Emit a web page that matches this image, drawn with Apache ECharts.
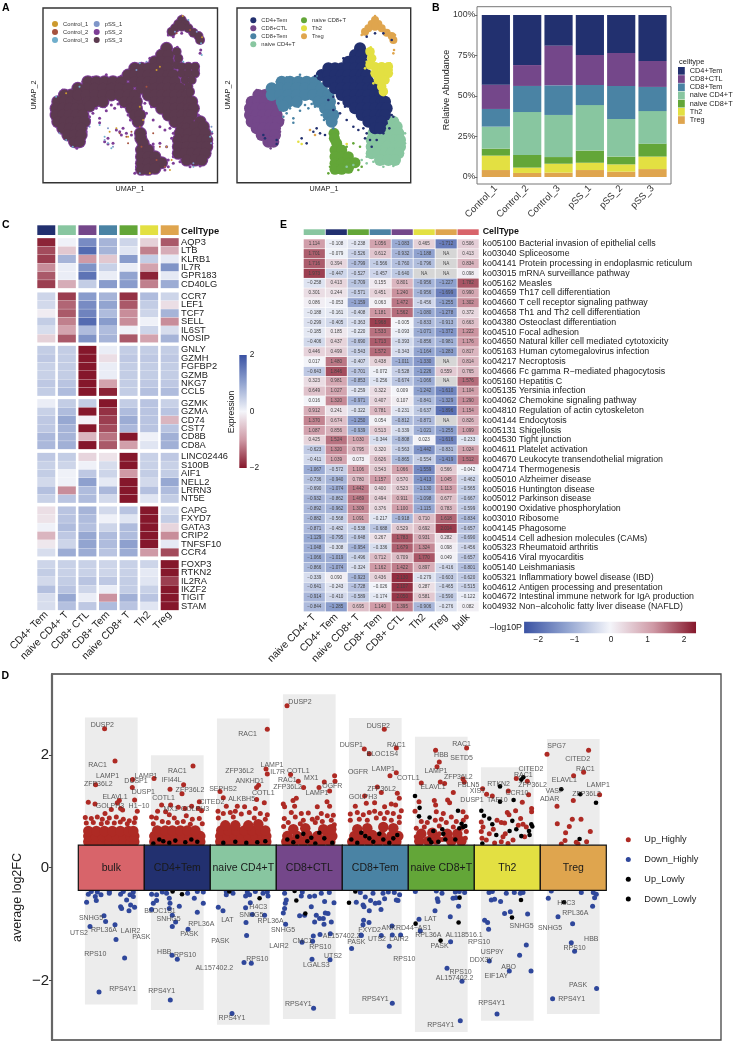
<!DOCTYPE html>
<html>
<head>
<meta charset="utf-8">
<title>Figure</title>
<script src="https://cdn.jsdelivr.net/npm/echarts@6/dist/echarts.min.js"></script>
<style>
  html, body { margin: 0; padding: 0; background: #fff; }
  #main { width: 734px; height: 1041px; }
</style>
</head>
<body>
<div id="main"></div>
<script>
// ---- cell type colours
const typeColors = { 'CD4+Tem': '#22306F', 'CD8+CTL': '#74478A', 'CD8+Tem': '#4A83A4', 'naive CD4+T': '#88C6A0',
  'naive CD8+T': '#63A638', 'Th2': '#E3E042', 'Treg': '#DFA54E', 'bulk': '#D8646A' };
const sampleColors = { Control_1: '#CC9A2F', Control_2: '#A5523F', Control_3: '#6FAECC', pSS_1: '#7F96C9', pSS_2: '#7D3D96', pSS_3: '#5C3A4F' };

// ---- UMAP points (umap x, umap y pairs, flat)
const ctlCore = [775,285,795,285, 755,305,775,305,795,305,815,305, 750,325,770,325,790,325,810,325,830,325, 750,345,770,345,790,345,810,345,830,345,
  755,365,775,365,795,365,815,365,835,365, 770,385,790,385,810,385,825,385, 785,405,805,405,825,405, 805,425,820,425];
const temCore = [845,245,870,245,895,245,920,245,945,245, 815,265,840,265,865,265,890,265,915,265,940,265,965,265,
  815,285,840,285,865,285,890,285,915,285,940,285,965,285,985,285, 845,305,865,305,890,305,955,305,975,305,990,305,
  850,318,975,325,990,325, 985,345,1000,345, 995,365];
const cd4Core = [1080,145, 1065,165,1085,165, 1045,185,1065,185,1085,185, 985,205,1005,205,1025,205,1045,205,1065,205,1085,205,
  965,225,985,225,1005,225,1025,225,1045,225,1065,225,1085,225,1100,225, 985,245,1005,245,1025,245,1045,245,1065,245,1085,245,1105,245,
  1005,265,1025,265,1045,265,1065,265,1085,265,1105,265,1120,265, 1025,285,1045,285,1065,285,1085,285,1105,285,1125,285,1140,285,
  1045,305,1065,305,1085,305,1105,305,1125,305,1145,305,1155,305, 1065,325,1085,325,1105,325,1125,325,1145,325,1160,325,
  1085,345,1105,345,1125,345,1145,345,1155,345, 1105,365,1125,365,1145,365, 1125,385,1140,385];
const nCd4Core = [1180,365, 1165,380,1190,380, 1120,400,1145,400,1170,400,1195,400, 1115,420,1140,420,1160,420,1185,420,1200,420,
  1115,440,1140,440,1160,440,1185,440,1200,440, 1115,460,1135,460,1155,460,1175,460,1195,460, 1140,480,1165,480,1185,480];
const nCd8Core = [1002,400,1003,415, 1010,430, 1005,450,1025,450, 1005,470,1025,470,1045,470, 1005,490,1025,490,1045,490,1065,488, 1005,508,1025,508,1045,505];
const th2Core = [1110,155,1115,175,1110,195,1125,200,1145,200,1165,200,1125,220,1145,220,1165,220,1135,240,1155,240,1145,260,1150,275];
const tregCore = [1125,60,1115,72,1135,72,1105,85,1125,80,1145,85,1160,98,1175,108,1095,95,1180,120];
const ctlStray = [745,300,738,320,742,345,762,385,778,410,798,430,812,445,842,340,850,360,840,395,835,415,790,278,770,270];
const temStray = [805,262,830,245,860,232,900,224,950,228,840,330,860,340,880,368,895,320,915,315,935,312,900,332,925,325,945,320,870,325,850,350,880,355,965,345,972,360,1000,385];
const cd4Stray = [1100,400,1110,420,1130,420,1160,370,1180,350,1115,440,1150,400,1000,330,1020,340,1040,360,1060,380,1075,390,1090,385,1150,100,1125,100,1175,120,1100,110,
  830,420,830,432,790,405,795,415,940,395,960,400,975,405,920,430,905,415,950,385,1030,175,960,215,945,228,985,300,1000,290,1015,310,1035,320,1175,345,1095,415,1120,395,1168,385];
const nCd4Stray = [1085,480,1060,495,1040,500,1100,490,1120,485,1215,400,1215,430,1100,470,1180,498,1150,500];
const nCd8Stray = [1070,490,1080,440,1040,440,1060,430,1085,500,1075,510,985,520,990,500];
const th2Stray = [1100,185,1095,205,1112,142,1120,250,1170,190,1175,210,1040,432,905,432,895,425];
const tregStray = [1125,48,1085,105,1185,105,1185,125,1182,150,1180,160,945,405,930,390];
// stray cells of each sample on panel A
const control1Stray = [1128,48,1186,112,1010,360,1000,320,1080,440,1095,480,780,280,1050,210,1090,510,1030,520,930,385,910,395,965,410,1060,200];
const control2Stray = [1110,100,1150,90,1040,400,1060,440,1050,480,940,400,960,410,965,430,975,395,1020,260,1075,500,1000,380,1005,440];
const control3Stray = [1145,60,1183,130,1185,165,1210,410,1216,395,780,420,800,440,905,430,915,445,880,375,895,410,1000,190,1130,185,1160,500,750,290,820,260];
const pss1Stray = [1105,95,1170,95,1213,430,1214,380,1160,490,895,420,920,440,905,385,850,380,1020,185,990,210,760,400,1000,520];

// ---- panel B, relative abundance per sample (segments bottom up)
const samples = ['Control_1', 'Control_2', 'Control_3', 'pSS_1', 'pSS_2', 'pSS_3'];
const shareTreg = [4.3, 2.5, 2.7, 4.3, 3.3, 4.9];
const shareTh2 = [8.9, 3.3, 5.5, 4.5, 4.5, 7.7];
const shareNaiveCd8 = [4.3, 7.8, 4.1, 7.5, 4.8, 8.0];
const shareNaiveCd4 = [13.6, 26.5, 26.0, 28.1, 23.2, 20.1];
const shareCd8Tem = [10.9, 16.1, 18.3, 12.4, 20.4, 14.9];
const shareCd8Ctl = [15.0, 12.9, 24.5, 18.5, 20.3, 16.0];
const shareCd4Tem = [43.0, 30.9, 18.9, 24.7, 23.5, 28.4];
const abundanceTicks = ['0%', '25%', '50%', '75%', '100%'];

// ---- panel C, expression heatmap
const cColumns = ['CD4+ Tem', 'naive CD4+ T', 'CD8+ CTL', 'CD8+ Tem', 'naive CD8+ T', 'Th2', 'Treg'];
const cGenes = ['AQP3','LTB','KLRB1','IL7R','GPR183','CD40LG', 'CCR7','LEF1','TCF7','SELL','IL6ST','NOSIP',
  'GNLY','GZMH','FGFBP2','GZMB','NKG7','CCL5', 'GZMK','GZMA','CD74','CST7','CD8B','CD8A',
  'LINC02446','S100B','AIF1','NELL2','LRRN3','NT5E', 'CAPG','FXYD7','GATA3','CRIP2','TNFSF10','CCR4',
  'FOXP3','RTKN2','IL2RA','IKZF2','TIGIT','STAM'];
const cValues = [
  [1.9,-0.05,-1.3,-0.8,-0.4,0.4,1.5],[1.6,0.5,-1.7,-0.8,-0.2,1.2,0.8],[1.7,-0.8,1.0,0.5,-1.1,-0.5,-0.15],
  [1.1,-0.1,-1.2,-0.45,-0.1,0.9,-1.2],[1.5,-0.1,-1.6,-0.1,-1.0,1.9,-0.15],[1.7,0.8,-0.5,-1.1,-1.1,1.2,-0.9],
  [-0.4,1.7,-1.1,-0.8,1.8,-0.7,-0.4],[-0.35,1.4,-1.3,-1.0,1.5,-0.5,0.25],[0.1,1.5,-1.4,-0.7,1.1,-0.4,-0.8],
  [-0.5,1.2,-1.7,-1.1,1.1,-0.05,1.1],[-0.3,0.9,-0.7,-0.7,-0.05,-0.4,-0.3],[0.4,1.5,-1.2,-0.8,1.5,0.9,-0.8],
  [-0.5,-0.5,2.3,-0.1,-0.5,-0.5,-0.5],[-0.55,-0.5,2.2,0.25,-0.55,-0.55,-0.55],[-0.45,-0.5,2.2,-0.1,-0.5,-0.5,-0.5],
  [-0.45,-0.5,2.2,-0.1,-0.5,-0.5,-0.5],[-0.55,-0.6,2.2,0.9,-0.5,-0.55,-0.55],[-0.5,-0.7,2.2,1.9,-0.5,-0.65,-0.7],
  [-0.1,-0.5,-0.5,2.2,-0.5,-0.6,-0.45],[-0.45,-0.7,2.1,1.8,-0.7,-0.6,-0.6],[-0.55,-0.95,0.05,1.7,-0.9,-0.6,0.7],
  [-0.55,-0.8,2.1,1.6,-0.75,-0.6,-0.6],[-0.75,-0.8,0.7,1.3,2.1,-0.05,-0.85],[-0.75,-0.85,2.0,1.5,0.95,-0.2,-0.85],
  [-0.55,-0.5,0.35,0.2,2.3,-0.45,-0.55],[-0.45,-0.4,-0.05,-0.3,2.3,-0.45,-0.45],[-0.5,-0.05,-0.55,-0.4,1.0,-0.5,-0.5],
  [-0.35,-0.05,-1.05,-0.15,2.0,-0.35,-0.95],[-0.65,1.1,-0.7,-0.75,2.2,-0.65,-0.7],[-0.45,-0.6,-0.7,-0.35,2.2,-0.2,-0.5],
  [0.25,-0.6,-0.8,-0.35,-0.6,2.3,-0.35],[0.2,-0.6,-0.7,-0.05,-0.2,2.3,-0.5],[-0.05,-0.7,-0.65,-0.4,-0.7,2.3,0.35],
  [0.7,-0.55,-0.95,-0.7,-0.7,2.3,1.1],[0.15,-0.4,-1.0,-0.7,-1.05,2.3,-0.15],[-0.3,-0.9,-0.9,-0.6,-0.9,1.0,1.6],
  [-0.4,-0.45,-0.45,-0.4,-0.45,-0.4,2.3],[-0.5,-0.45,-0.45,-0.4,-0.45,-0.15,2.3],[-0.35,-0.5,-0.6,-0.55,-0.5,-0.2,1.7],
  [-0.65,-0.6,-0.4,-0.1,-0.5,-0.45,2.3],[-0.3,-0.95,-0.1,1.05,-0.85,-0.6,2.3],[-0.3,-0.65,-0.55,-0.7,-0.6,-0.2,2.3]
];

// ---- panel E, pathway heatmap
const eColumns = ['naive CD4+ T', 'CD4+ Tem', 'naive CD8+ T', 'CD8+ Tem', 'CD8+ CTL', 'Th2', 'Treg', 'bulk'];
const ePathways = ['ko05100 Bacterial invasion of epithelial cells','ko03040 Spliceosome','ko04141 Protein processing in endoplasmic reticulum',
  'ko03015 mRNA surveillance pathway','ko05162 Measles','ko04659 Th17 cell differentiation','ko04660 T cell receptor signaling pathway',
  'ko04658 Th1 and Th2 cell differentiation','ko04380 Osteoclast differentiation','ko04510 Focal adhesion','ko04650 Natural killer cell mediated cytotoxicity',
  'ko05163 Human cytomegalovirus infection','ko04217 Necroptosis','ko04666 Fc gamma R\u2212mediated phagocytosis','ko05160 Hepatitis C','ko05135 Yersinia infection',
  'ko04062 Chemokine signaling pathway','ko04810 Regulation of actin cytoskeleton','ko04144 Endocytosis','ko05131 Shigellosis','ko04530 Tight junction',
  'ko04611 Platelet activation','ko04670 Leukocyte transendothelial migration','ko04714 Thermogenesis','ko05010 Alzheimer disease','ko05016 Huntington disease',
  'ko05012 Parkinson disease','ko00190 Oxidative phosphorylation','ko03010 Ribosome','ko04145 Phagosome','ko04514 Cell adhesion molecules (CAMs)',
  'ko05323 Rheumatoid arthritis','ko05416 Viral myocarditis','ko05140 Leishmaniasis','ko05321 Inflammatiory bowel disease (IBD)',
  'ko04612 Antigen processing and presentation','ko04672 Intestinal immune network for IgA production','ko04932 Non\u2212alcoholic fatty liver disease (NAFLD)'];
const eValues = [
  [1.114,-0.108,-0.238,1.056,-1.083,0.465,-1.712,0.506],[1.701,-0.079,-0.526,0.612,-0.932,-1.188,'NA',0.413],
  [1.716,0.394,-0.799,-0.566,-0.760,-0.796,'NA',0.834],[1.973,-0.447,-0.527,-0.457,-0.640,'NA','NA',0.098],
  [-0.258,0.413,-0.709,0.155,0.801,-0.956,-1.227,1.782],[0.301,0.244,-0.571,0.451,1.240,-0.956,-1.699,0.990],
  [0.086,-0.053,-1.159,0.063,1.472,-0.456,-1.255,1.302],[-0.188,-0.161,-0.408,1.181,1.562,-1.080,-1.278,0.372],
  [-0.299,-0.405,-0.363,1.968,-0.005,-0.833,-0.913,0.663],[-0.185,0.185,-0.220,1.533,-0.093,-1.071,-1.372,1.222],
  [-0.406,0.437,-0.690,1.713,-0.393,-0.856,-0.981,1.176],[0.446,0.499,-0.543,1.572,-0.343,-1.164,-1.283,0.817],
  [0.017,1.480,-0.407,0.438,-1.011,-1.330,'NA',0.814],[-0.643,1.846,-0.701,-0.072,-0.528,-1.226,0.559,0.765],
  [0.323,0.981,-0.853,-0.256,-0.674,-1.066,'NA',1.576],[0.649,1.027,-0.259,0.322,0.009,-1.242,-1.610,1.104],
  [0.016,1.320,-0.971,0.407,0.107,-0.841,-1.329,1.290],[0.912,0.241,-0.322,0.781,-0.231,-0.637,-1.896,1.154],
  [1.370,0.674,-1.250,0.054,-0.812,-0.871,'NA',0.826],[1.087,0.856,-0.939,0.513,-0.339,-1.021,-1.255,1.099],
  [0.425,1.524,1.030,-0.344,-0.808,0.023,-1.616,-0.233],[-0.623,1.320,0.795,0.320,-0.563,-1.442,-0.831,1.024],
  [-0.411,1.039,0.073,0.626,-0.865,-0.554,-1.419,1.512],[-1.067,-0.572,1.106,0.543,1.066,-1.559,0.566,-0.042],
  [-0.736,-0.940,0.780,1.157,0.570,-1.413,1.045,-0.462],[-0.690,-1.074,1.442,0.400,0.523,-1.130,1.113,-0.565],
  [-0.932,-0.862,1.469,0.494,0.911,-1.098,0.677,-0.667],[-0.892,-0.962,1.309,0.376,1.100,-1.115,0.783,-0.599],
  [-0.882,-0.568,1.091,-0.217,-0.918,0.710,1.618,-0.834],[-0.871,-0.482,-0.538,-0.688,0.529,0.692,2.014,-0.657],
  [-1.129,-0.795,-0.648,0.267,1.783,0.931,0.282,-0.690],[-1.048,-0.308,-0.954,-0.336,1.679,1.324,0.098,-0.456],
  [-1.066,-1.019,-0.496,0.712,0.709,1.770,0.049,-0.657],[-0.866,-1.074,-0.324,1.162,1.422,0.897,-0.416,-0.801],
  [-0.339,0.090,-0.923,0.436,2.130,-0.279,-0.603,-0.620],[-0.641,-0.243,-0.728,-0.026,2.107,0.287,-0.465,-0.515],
  [-0.914,-0.410,-0.589,-0.174,2.050,0.581,-0.590,-0.122],[-0.844,-1.285,0.695,1.140,1.395,-0.906,-0.276,0.082]
];

// ---- panel D, volcano strips. points are (jitter, log2FC) pairs, flat
const clusters = ['bulk', 'CD4+Tem', 'naive CD4+T', 'CD8+CTL', 'CD8+Tem', 'naive CD8+T', 'Th2', 'Treg'];
const stripTop = [2.66, 1.99, 2.64, 3.07, 2.65, 2.32, 1.78, 2.28];
const stripBottom = [-2.42, -2.52, -2.78, -2.68, -2.59, -2.91, -2.71, -2.59];

const bulkDense = [-23,.46,-16,.46,-9,.46,-2,.46,5,.46,12,.46,19,.46,23,.46, -23,.56,-16,.56,-9,.56,-2,.56,5,.56,12,.56,19,.56,23,.56, -23,.65,-15,.65,-7,.65,1,.65,9,.65,17,.65,22,.65];
const cd4Dense = [-23,.46,-16,.46,-9,.46,-2,.46,5,.46,12,.46,19,.46,23,.46, -23,.56,-16,.56,-9,.56,-2,.56,5,.56,12,.56,19,.56,23,.56, -20,.66,-12,.66,-5,.66,3,.66,10,.66,18,.66];
const nCd4Dense = [-23,.46,-16,.46,-9,.46,-2,.46,5,.46,12,.46,19,.46,23,.46, -23,.56,-16,.56,-9,.56,-2,.56,5,.56,12,.56,19,.56,23,.56, -22,.66,-15,.66,-7,.66,1,.66,9,.66,17,.66,22,.66, -18,.75,-8,.75,5,.75,15,.77];
const ctlDense = [-23,.46,-15,.46,-6,.46,3,.46,12,.46,21,.46, -22,.56,-12,.56,-2,.58,8,.56,18,.56,23,.56, -16,.68,-4,.7,14,.68,22,.68];
const temDense = [-23,.46,-15,.46,-6,.46,3,.46,12,.46,21,.46, -21,.56,-12,.56,-3,.58,6,.56,16,.56,23,.56, -18,.68,-8,.7,8,.72,18,.7];
const nCd8Dense = [-22,.47,-13,.47,-5,.5,10,.47,20,.47, -20,.6,-9,.62,6,.6,16,.6];
const th2Dense = [];
const tregDense = [];

const bulkUp = [-6.7,2.46,3.7,1.89,21.3,1.56,-15.7,1.47,21,1.42,23.3,1.2,-23,1.16,-16.3,1.13,8,1.19,6,1.15,0,1.03,9.3,1.05,11.3,1.02,26,1,-6.3,.96,-26,.89,
  -20,.87,-14,.9,-9,.86,-2,.88,5,.9,12,.86,18,.83,24,.88,-25,.79,-18,.8,-10,.78,-4,.8,3,.79,9,.81,16,.78,23,.8];
const cd4Up = [15.7,1.8,-23.3,1.58,6.3,1.47,-7.3,1.39,4.7,1.31,22,1.17,-15.7,1.11,-6.7,1.11,-19.7,1,-11.7,.99,1,1.07,7.7,1.05,14.3,1.09,21,1.05,24.3,1.01,-25.7,.9,
  -21,.88,-8,.94,-3,.88,9,.92,15,.86,22,.87,-24,.78,-15,.82,-9,.8,0,.8,6,.82,13,.77,25,.78];
const nCd4Up = [24,2.45,22.7,1.75,24,1.66,15.3,1.46,13.3,1.42,-23.3,1.35,-20,1.24,13.3,1.21,21,1.15,-17,1.09,-6,1.09,1.3,1.08,12,1.05,-25.3,1,-20,.96,-13,.98,-8,1,-2,.95,6,.98,17,.96,24,.94,-25,.88,-10,.9,11,.88,22,.86];
const ctlUp = [-22.3,2.87,25.3,1.63,25.7,1.53,-18.7,1.65,-11,1.53,-5.7,1.42,15,1.52,9.7,1.42,20.3,1.36,-13,1.23,-16.3,1.19,-26,1.13,-24.7,1.08,17.7,1.17,20.3,1.09,8,1.08,-14.7,1.09,-8,.96,-1,.97,12,.96,24,.93,-25.7,.73,
  -18,.98,-14,.9,-6,.84,3,.86,8,.88,-25,.87,18,.92,22,.84,-21,.8,-9,.78,6,.8,13,.82,25,.76];
const temUp = [9,2.45,-11,2.1,-6,2.02,21,2.12,21,1.68,14.7,1.63,2,1.43,6,1.33,22,1.32,24,1.23,-10.7,1.27,-20,1.09,9.3,1.08,16,1.13,20.3,1.11,26,1.01,-.7,1.15,-9,1.14,-.7,1,
  -25,.95,-18,.98,-12,.94,-6,.98,5,.96,12,.98,18,.96,24,.9,-25,.84,-16,.86,-8,.84,1,.88,9,.87,16,.84,24,.8];
const nCd8Up = [25.3,2.12,-5.7,2.08,-2,1.87,-4.3,1.79,21.7,1.57,23,1.52,-1,1.52,3.3,1.49,-20,1.5,12,1.33,-22.3,1.17,-7,1.19,6.3,1.2,-26.3,1,-5.7,1.11,8.3,1.15,21.7,.99,25,.9,-5,.99,2,.96,
  -20,.82,-14,.8,-6,.84,0,.86,5,.8,10,.9,15,.82,22,.84,-25,.7,-17,.72,-2,.74,12,.72,20,.7,25,.64,-25,.55,-2,.6,1,.5,24,.52];
const th2Up = [20,1.53,9,1.58,-24.7,1.4,-20.7,1.3,-15,1.27,1,1.36,21.3,1.29,15,1.16,24.3,1.05,24.3,.99,0,.98,1.7,.94,8.3,1.01,13.3,.87,-10.3,.84,-6,.8,-2.7,.79,-26,.81,-24.3,.72,-26,.64,-25.3,.52,-18,.6,-4.3,.55,-2,.6,-12.7,.44,5.7,.49,15.7,.77,19,.72,-21,.49,-6,.46,.7,.43,17.3,.55,-14,.68,11,.75];
const tregUp = [-26.3,2.01,15.3,2.08,10.3,1.69,.3,1.63,26.3,1.29,0,1.19,-16.3,1.09,-16,.78,-1,.86,7.7,.86,-4,.73,17,.64,-7.7,.62,-8.3,.48,3,.45,13.3,.46,4.7,.42,-12,.42];
const bulkDown = [-12.3,-2.2,13.3,-1.6,4.7,-1.27,-21.3,-1.04,-5.7,-.95,3.7,-1.01,-7.3,-.85,-24.7,-.61,-15,-.58,-16,-.51,-10.3,-.48,-2,-.45,-23,-.47,9.3,-.47,18.7,-.48,22,-.51,15.3,-.57,19.3,-.66,23.3,-.7,17.7,-.76,9.3,-.69,10.3,-.72,-2,-.42,12,-.42,-20,-.42,-14,-.43,22,-.43];
const cd4Down = [-7,-2.34,0,-1.62,-5.3,-1.55,10.7,-1.09,-5,-1.04,-1.7,-.96,-5,-.84,20,-.79,2,-.68,26,-.63,17,-.54,-24,-.63,-25.7,-.74,-20.7,-.58,-8,-.54,-7.3,-.63,-8,-.72,-25.7,-.47,-20.7,-.48,-10.7,-.45,10.3,-.45,26,-.43,20,-.42,-15,-.43];
const nCd4Down = [-11.3,-2.58,.7,-1.68,8,-1.69,3.3,-1.2,2.7,-.97,9,-.83,21.3,-.84,-25,-.7,-20.3,-.76,2.3,-.71,7,-.62,-17,-.48,-10.3,-.45,2.3,-.5,6.3,-.48,19.7,-.45,24.7,-.5,-17,-.42,4,-.43,12,-.42,24,-.43];
const ctlDown = [4.3,-2.49,20.7,-1.63,2.7,-1.62,-7.3,-1.32,3.3,-1.3,4,-1.21,10.7,-1.18,21,-1.17,-23.7,-1,5.3,-.96,14.7,-1,22,-.96,10.3,-.9,14,-.9,-9.7,-.85,-4.7,-.84,7,-.84,18.7,-.81,16,-.8,-26,-.8,-24.7,-.72,-23,-.57,-24,-.63,2,-.69,24.7,-.62,15.3,-.6,.3,-.51,5.3,-.5,-8,-.5,-24.7,-.45,20,-.44,-7,-.43,12,-.45];
const temDown = [17,-2.4,14,-1.39,-23.7,-1.43,25.3,-1.19,17,-1.19,6,-1.2,-14,-1.2,-14.3,-1.19,16.7,-1.03,-6.3,-.97,-12.3,-1.01,-11.7,-.93,-6,-.76,5.7,-.74,-12.3,-.66,-11.3,-.69,0,-.63,3.7,-.62,-4.7,-.58,9.3,-.55,21,-.57,22.7,-.58,7.7,-.45,-2.3,-.45,24.3,-.48,19,-.44,-19,-.61,-15,-.44,-10,-.52,13,-.43];
const nCd8Down = [19,-2.71,20.7,-2.01,5.7,-1.78,9.3,-1.31,-21,-1.12,-22.3,-.91,9,-.87,-6.3,-.76,17.3,-.68,-3.3,-.6,-4,-.55,11.7,-.54,14.7,-.53,.7,-.45,-26,-.42,-5,-.41,23.3,-.44,14,-.43,18,-.42];
const th2Down = [-10.3,-2.59,23.7,-1.83,2,-1.83,-18,-1.65,12.3,-1.55,19,-1.37,-18.7,-1.09,-19.7,-.97,-22.7,-.93,-2.7,-.81,3,-.78,20.3,-.82,-16,-.57,-12.7,-.56,-6.7,-.6,-1,-.45,7,-.44,13,-.45,-18.3,-.44,15.7,-.44,-15,-.42];
const tregDown = [-20.7,-2.32,23.3,-2.14,1.3,-1.48,-2,-1.33,-.7,-.99,-15.3,-.87,19.3,-.68,21.3,-.53,23,-.47,-25,-.54,8,-.44,-22,-.41,20,-.44];
const upLowly = [[1,-24,.43,-14,.47,-8,.44,-2,.48,8,.45,14,.5,20,.46,-18,.5], [2,-20,.44,-8,.46,3,.44,14,.45,22,.47],
  [3,-22,.5,-12,.55,-2,.47,6,.43,15,.52,23,.44,-6,.6,-16,.45,10,.62,2,.53], [4,-24,.5,-18,.44,-10,.56,-2,.46,8,.5,14,.44,22,.58,-14,.62,18,.52,4,.6,-6,.52],
  [5,-26.3,1.27,-21.7,1.06,16.7,1.01,-22.3,.91,-11.7,.89,-8,.65,1,.68,2,.6,14,.5,20.3,.78,24,.74,22,.72,-10,.45,-12,.5,4,.5,-3,.46,18,.7],
  [6,-7.3,1.44,6.3,1.2,-7.3,1.17,-26,1.01,-23.3,.92,-18,.87,-15,.77,5,.83,24,.77,25,.73,21.7,.65,22.3,.58,9,.68,2.3,.65,14,.56,-11,.58,-25,.43,16,1.6,14,1.56],
  [7,-12,1.39,7,1.3,22.7,1.15,6.3,.51]];
const downLowly = [[1,-4.7,-.42,4.7,-.47], [2,16.3,-.54,-14,-.42], [3,-13,-.58,-4,-.81,-14.7,-.41], [4,-26.3,-.62,-20,-.42], [5,-.7,-1.29,-25.7,-.99,17.3,-.97,18.3,-.53], [6,4.7,-.88,13.7,-.57], [7,-9.3,-.61]];

const geneLabels = [
  ['DUSP2',0,-9,2.52],['RAC1',0,-13.7,1.81],['LAMP1',0,-3.7,1.62],['ZFP36L2',0,-13,1.48],['DUSP1',0,24.7,1.53],['DUSP1',0,32,1.34],['ELAVL1',0,3.7,1.26],['GOLPH3',0,-1.3,1.09],['H1\u221210',0,27.7,1.1],
  ['SNHG5',0,-20.3,-.89],['RPL36A',0,-7.3,-1.1],['UTS2',0,-32.3,-1.15],['LAIR2',0,19.3,-1.13],['PASK',0,30,-1.23],['RPS10',0,-16,-1.53],['RPS4Y1',0,11.3,-2.14],
  ['LAMP1',1,-31.3,1.63],['RAC1',1,0,1.71],['IFI44L',1,-5.7,1.55],['ZFP36L2',1,12.7,1.38],['COTL1',1,-13.7,1.24],['CITED2',1,34.7,1.16],['MX1',1,-6.7,1.03],['GOLPH3',1,17.7,1.03],
  ['BLOC1S1',1,-17.3,-.76],['SNHG5',1,-8.7,-.9],['RPL36A',1,24,-.99],['PASK',1,12,-1.17],['HBB',1,-13,-1.49],['RPS10',1,7.7,-1.55],['RPS4Y1',1,-15.7,-2.18],
  ['RAC1',2,4.3,2.37],['ZFP36L2',2,-3.7,1.72],['ANKHD1',2,6.3,1.54],['SEPHS2',2,-20.3,1.4],['COTL1',2,20,1.33],['ALKBH5',2,-1.7,1.22],
  ['H4C3',2,15,-.69],['SNHG5',2,8,-.84],['LAT',2,-16,-.92],['PASK',2,-23,-1.29],['RPS10',2,14,-1.62],['AL157402.2',2,-29,-1.78],['RPS4Y1',2,-11.3,-2.66],
  ['DUSP2',3,-9.3,2.93],['LAMP1',3,-37.3,1.81],['IL7R',3,-31.7,1.69],['COTL1',3,-11,1.72],['RAC1',3,-22,1.55],['MX1',3,2,1.58],['ZFP36L2',3,-21.7,1.43],['OGFR',3,23,1.45],['LAMP1',3,7.7,1.33],
  ['RPL36A',3,-38.7,-.94],['SNHG5',3,-26.3,-1.11],['LAIR2',3,-30.3,-1.39],['CMC1',3,-7,-1.3],['RPS10',3,11,-1.41],['UTS2',3,23.7,-1.56],['LGALS3',3,7,-1.72],['RPS4Y1',3,-11,-2.42],['AL157402.2',3,32.3,-1.21],
  ['DUSP2',4,3,2.51],['DUSP1',4,-24,2.18],['BLOC1S4',4,7,2.02],['RAC1',4,21,2.17],['OGFR',4,-17.3,1.69],['LAMP1',4,8,1.74],['ZFP36L2',4,6.3,1.4],['GOLPH3',4,-12.3,1.25],['COTL1',4,33,1.58],
  ['FXYD2',4,-5.7,-1.11],['ANKRD44\u2212AS1',4,31,-1.07],['UTS2',4,1.7,-1.27],['LAIR2',4,23.7,-1.27],['PASK',4,-19,-1.32],['RPS10',4,29,-1.61],['RPS4Y1',4,0,-2.33],
  ['RAC1',5,20.3,2.19],['HBB',5,0,1.99],['SETD5',5,20.3,1.94],['LAMP1',5,-5.3,1.71],['ZFP36L2',5,17,1.6],['ELAVL1',5,-8.3,1.42],['FBLN5',5,27.3,1.46],['XIST',5,36.3,1.35],['DUSP1',5,30.7,1.19],
  ['LAT',5,-11,-.91],['RPL36A',5,-13,-1.2],['AL118516.1',5,22.7,-1.2],['PASK',5,-1.7,-1.39],['RPS10',5,37.7,-1.31],['RPS10',5,19.3,-1.85],['AL157402.2',5,13.3,-1.96],['RPS4Y1',5,-.7,-2.79],
  ['RTKN2',6,-8.7,1.49],['CITED2',6,23.7,1.75],['RAC1',6,16,1.64],['ZFP36L2',6,25.3,1.46],['TAF10',6,-10,1.2],['CCR10',6,9.7,1.32],
  ['SNHG5',6,14.3,-1.03],['USP9Y',6,-15,-1.49],['DDX3Y',6,-26,-1.63],['ABO',6,1.3,-1.76],['EIF1AY',6,-11,-1.91],['RPS4Y1',6,-15.7,-2.4],
  ['SPG7',7,-16.7,2.15],['CITED2',7,4.3,1.93],['RAC1',7,12,1.75],['ELAVL1',7,-9,1.55],['VASP',7,-18.7,1.36],['ZFP36L2',7,13.3,1.31],['LAMP1',7,25,1.46],['ADAR',7,-23.7,1.21],
  ['H4C3',7,-7,-.62],['RPL36A',7,2,-.81],['SNHG5',7,-23.3,-1.07],['HBB',7,18,-1.27],['RPS10',7,1.3,-1.42],['PASK',7,4.7,-2.07],['RPS4Y1',7,-1.7,-2.33]
];

// ---- helpers
const FONT = '"Liberation Sans", Arial, sans-serif';
const pairs = flat => { const out = []; for (let i = 0; i < flat.length; i += 2) out.push([flat[i], flat[i + 1]]); return out; };
const heatStops = ['#3A52A3', '#92A4D0', '#F4F5FA', '#CF9AA6', '#85172B'];
const heatColor = (v, limit) => echarts.color.lerp((Math.max(-limit, Math.min(limit, v)) + limit) / (2 * limit), heatStops);
const gradient = (x2, y2) => new echarts.graphic.LinearGradient(0, 0, x2, y2,
  heatStops.map((color, i) => ({ offset: i / (heatStops.length - 1), color })));
const minus = v => String(v).replace('-', '\u2212');

const grids = [], xAxes = [], yAxes = [], series = [], graphics = [];
function addGrid(rect, x, y) {
  const gridIndex = grids.length;
  grids.push(Object.assign({ containLabel: false }, rect));
  xAxes.push(Object.assign({ gridIndex }, x));
  yAxes.push(Object.assign({ gridIndex }, y));
  return gridIndex;
}
function text(str, x, y, size, opts) {
  opts = opts || {};
  graphics.push({ type: 'text', x, y, rotation: opts.rotation || 0, z: 50,
    style: { text: str, font: (opts.bold ? 'bold ' : '') + size + 'px ' + FONT, fill: opts.color || '#222',
      textAlign: opts.align || 'left', textVerticalAlign: 'middle' } });
}

// panel letters
text('A', 2, 8, 10.5, { bold: true, color: '#000' });
text('B', 432, 8, 10.5, { bold: true, color: '#000' });
text('C', 2, 225, 10.5, { bold: true, color: '#000' });
text('E', 280, 225, 10.5, { bold: true, color: '#000' });
text('D', 1.5, 675.7, 10.5, { bold: true, color: '#000' });

// ---- UMAP panels share one data range
const umapX = { type: 'value', show: false, min: 711, max: 1232 };
const umapY = { type: 'value', show: false, min: 24, max: 548, inverse: true };
const frame = { show: true, borderColor: '#333', borderWidth: 1.4, backgroundColor: '#fff' };
const gridA = addGrid(Object.assign({ left: 43, top: 8, width: 174.5, height: 174.7 }, frame), umapX, umapY);
const gridB = addGrid(Object.assign({ left: 237, top: 8, width: 173.7, height: 174.7 }, frame), umapX, umapY);
function scatter(name, grid, data, color, size, z) {
  series.push({ type: 'scatter', name, xAxisIndex: grid, yAxisIndex: grid, data, symbolSize: size, silent: true,
    itemStyle: { color, opacity: 1 }, z: z || 2, animation: false });
}
const bigCore = [ctlCore, temCore, cd4Core, nCd4Core, nCd8Core].reduce((acc, a) => acc.concat(pairs(a)), []);
const smallCore = [th2Core, tregCore].reduce((acc, a) => acc.concat(pairs(a)), []);
const allStray = [ctlStray, temStray, cd4Stray, nCd4Stray, nCd8Stray, th2Stray, tregStray].reduce((acc, a) => acc.concat(pairs(a)), []);
scatter('pSS_2', gridA, bigCore, sampleColors.pSS_2, 13);
scatter('pSS_2', gridA, smallCore, sampleColors.pSS_2, 10);
scatter('pSS_2', gridA, allStray, sampleColors.pSS_2, 3);
scatter('pSS_3', gridA, bigCore, sampleColors.pSS_3, 11, 3);
scatter('pSS_3', gridA, smallCore, sampleColors.pSS_3, 8, 3);
scatter('Control_1', gridA, pairs(control1Stray), sampleColors.Control_1, 2, 4);
scatter('Control_2', gridA, pairs(control2Stray), sampleColors.Control_2, 2, 4);
scatter('Control_3', gridA, pairs(control3Stray), sampleColors.Control_3, 2, 4);
scatter('pSS_1', gridA, pairs(pss1Stray), sampleColors.pSS_1, 2, 4);

[['CD8+CTL', ctlCore, ctlStray, 12], ['CD8+Tem', temCore, temStray, 12], ['naive CD4+T', nCd4Core, nCd4Stray, 12], ['naive CD8+T', nCd8Core, nCd8Stray, 11],
 ['CD4+Tem', cd4Core, cd4Stray, 12], ['Th2', th2Core, th2Stray, 9.5], ['Treg', tregCore, tregStray, 8]].forEach(row => {
  scatter(row[0], gridB, pairs(row[1]), typeColors[row[0]], row[3]);
  scatter(row[0], gridB, pairs(row[2]), typeColors[row[0]], 2.6, 3);
});
text('UMAP_1', 130, 189, 7.2, { align: 'center' });
text('UMAP_1', 324, 189, 7.2, { align: 'center' });
text('UMAP_2', 34, 95, 7.2, { align: 'center', rotation: Math.PI / 2 });
text('UMAP_2', 228, 95, 7.2, { align: 'center', rotation: Math.PI / 2 });

// ---- panel B, stacked bars
const gridBar = addGrid({ left: 480.2, top: 15, width: 188, height: 162 },
  { type: 'category', data: samples, offset: 7, axisLine: { show: false }, axisTick: { length: 2, alignWithLabel: true, lineStyle: { color: '#555' } },
    axisLabel: { rotate: 45, fontSize: 9.5, margin: 3, interval: 0, color: '#333', fontFamily: FONT } },
  { type: 'value', min: 0, max: 100, interval: 25, offset: 3, splitLine: { show: false }, axisLine: { show: false }, axisTick: { show: true, length: 2, lineStyle: { color: '#555' } },
    axisLabel: { formatter: v => abundanceTicks[v / 25], fontSize: 8.7, margin: 2, color: '#333', fontFamily: FONT } });
[['Treg', shareTreg], ['Th2', shareTh2], ['naive CD8+T', shareNaiveCd8], ['naive CD4+T', shareNaiveCd4], ['CD8+Tem', shareCd8Tem], ['CD8+CTL', shareCd8Ctl], ['CD4+Tem', shareCd4Tem]].forEach(row => {
  series.push({ type: 'bar', name: row[0], xAxisIndex: gridBar, yAxisIndex: gridBar, stack: 'abundance', data: row[1], barWidth: '90%', silent: true,
    itemStyle: { color: typeColors[row[0]] }, animation: false });
});
graphics.push({ type: 'rect', shape: { x: 477, y: 6.7, width: 194, height: 177.3 }, style: { fill: 'none', stroke: '#777', lineWidth: 1 }, z: 1 });
text('Relative Abundance', 446.7, 90, 9, { align: 'center', rotation: Math.PI / 2 });
text('celltype', 679, 62, 7.5);

// ---- panel C, grouped heatmap
function cellItem(limit, gapX, gapY, showText) {
  return function (params, api) {
    const v = api.value(2);
    const c = api.coord([api.value(0), api.value(1)]);
    const s = api.size([1, 1]);
    const w = s[0] - gapX, h = s[1] - gapY;
    const na = isNaN(v);
    const children = [{ type: 'rect', shape: { x: c[0] - w / 2, y: c[1] - h / 2, width: w, height: h },
      style: { fill: na ? '#D6D6D6' : heatColor(v, limit) } }];
    if (showText) children.push({ type: 'text', x: c[0], y: c[1], style: { text: na ? 'NA' : minus(v.toFixed(3)),
      textAlign: 'center', textVerticalAlign: 'middle', font: '4.6px ' + FONT, fill: '#444' } });
    return { type: 'group', children };
  };
}
function stripItem(colors, gapX) {
  return function (params, api) {
    const c = api.coord([api.value(0), 0]);
    const s = api.size([1, 1]);
    const w = s[0] - gapX;
    return { type: 'rect', shape: { x: c[0] - w / 2, y: c[1] - s[1] / 2, width: w, height: s[1] }, style: { fill: colors[params.dataIndex] } };
  };
}
function addStrip(left, top, width, height, names, gapX) {
  const g = addGrid({ left, top, width, height },
    { type: 'category', data: names, show: false }, { type: 'category', data: ['CellType'], show: false });
  series.push({ type: 'custom', xAxisIndex: g, yAxisIndex: g, silent: true, animation: false,
    data: names.map((n, i) => [i, 0]), renderItem: stripItem(names.map(n => typeColors[n.replace('+ ', '+')]), gapX) });
}
addStrip(36, 225.3, 144, 9.7, cColumns, 2.6);
text('CellType', 181, 231, 9.3, { bold: true, color: '#111' });
const cTops = [238, 292.3, 345.7, 399, 452.7, 506.3, 560];
cTops.forEach((top, k) => {
  const genes = cGenes.slice(k * 6, k * 6 + 6);
  const last = k === cTops.length - 1;
  const g = addGrid({ left: 36, top, width: 144, height: 50.3 },
    { type: 'category', data: cColumns, axisLine: { show: false }, axisTick: { show: false },
      axisLabel: { show: last, rotate: 45, fontSize: 10.3, margin: 3, interval: 0, color: '#222', fontFamily: FONT } },
    { type: 'category', data: genes, inverse: true, position: 'right', axisLine: { show: false }, axisTick: { show: false },
      axisLabel: { fontSize: 9.3, margin: 1, interval: 0, color: '#222', fontFamily: FONT } });
  const data = [];
  genes.forEach((gene, r) => cValues[k * 6 + r].forEach((v, c) => data.push([c, r, v])));
  series.push({ type: 'custom', xAxisIndex: g, yAxisIndex: g, silent: true, animation: false, data, renderItem: cellItem(2, 2.6, 0.3, false) });
});
// colour bar C
const gridBarC = addGrid({ left: 239.3, top: 355, width: 7.4, height: 113 },
  { type: 'value', show: false, min: 0, max: 1 },
  { type: 'value', min: -2, max: 2, interval: 2, position: 'right', splitLine: { show: false }, axisLine: { show: false }, axisTick: { show: false },
    axisLabel: { formatter: minus, fontSize: 8.3, margin: 3, color: '#222', fontFamily: FONT } });
series.push({ type: 'custom', xAxisIndex: gridBarC, yAxisIndex: gridBarC, silent: true, animation: false, data: [[0, 1, -2, 2]],
  renderItem(params, api) {
    const a = api.coord([api.value(0), api.value(3)]), b = api.coord([api.value(1), api.value(2)]);
    return { type: 'rect', shape: { x: a[0], y: a[1], width: b[0] - a[0], height: b[1] - a[1] }, style: { fill: gradient(0, 1) } };
  } });
text('Expression', 232, 412, 8.6, { align: 'center', rotation: Math.PI / 2 });

// ---- panel E, heatmap with values
addStrip(303.3, 229.3, 175.8, 5.7, eColumns, 0.8);
text('CellType', 482.7, 231.5, 8.85, { bold: true, color: '#111' });
const gridE = addGrid({ left: 303.3, top: 239, width: 175.8, height: 372.7 },
  { type: 'category', data: eColumns, axisLine: { show: false }, axisTick: { show: false },
    axisLabel: { rotate: 45, fontSize: 10.3, margin: 4, interval: 0, color: '#222', fontFamily: FONT } },
  { type: 'category', data: ePathways, inverse: true, position: 'right', axisLine: { show: false }, axisTick: { show: false },
    axisLabel: { fontSize: 8.85, margin: 3.5, interval: 0, color: '#222', fontFamily: FONT } });
const eData = [];
eValues.forEach((row, r) => row.forEach((v, c) => eData.push([c, r, v === 'NA' ? NaN : v])));
series.push({ type: 'custom', xAxisIndex: gridE, yAxisIndex: gridE, silent: true, animation: false, data: eData, renderItem: cellItem(2.33, 0.8, 0.6, true) });
const gridBarE = addGrid({ left: 538.3, top: 621.7, width: 145.7, height: 11.6 },
  { type: 'value', min: -2, max: 2, interval: 1, axisLine: { show: false }, axisTick: { show: false }, splitLine: { show: false },
    axisLabel: { formatter: minus, fontSize: 8.3, margin: 2.5, color: '#222', fontFamily: FONT } },
  { type: 'value', show: false, min: 0, max: 1 });
series.push({ type: 'custom', xAxisIndex: gridBarE, yAxisIndex: gridBarE, silent: true, animation: false, data: [[-2.39, 2.33, 0, 1]],
  renderItem(params, api) {
    const a = api.coord([api.value(0), api.value(3)]), b = api.coord([api.value(1), api.value(2)]);
    return { type: 'rect', shape: { x: a[0], y: a[1], width: b[0] - a[0], height: b[1] - a[1] }, style: { fill: gradient(1, 0) } };
  } });
text('\u2212log10P', 522, 627.5, 8.85, { align: 'right' });

// ---- panel D, strips
const step = 66;
const gridD = addGrid({ left: 52, top: 674, width: 669, height: 366, show: true, borderColor: '#444', borderWidth: 1.3, backgroundColor: '#fff' },
  { type: 'value', show: false, min: -59.3, max: 609.7 },
  { type: 'value', min: -3.05, max: 3.43, splitLine: { show: false },
    axisLine: { show: true, onZero: false, lineStyle: { color: '#666', width: 2.2 } },
    axisTick: { show: true, length: 3, lineStyle: { color: '#444' }, customValues: [-2, 0, 2] },
    axisLabel: { fontSize: 15, margin: 3, color: '#222', fontFamily: FONT, formatter: minus, customValues: [-2, 0, 2] } });
const place = (flat, i) => pairs(flat).map(p => [step * i + p[0], p[1]]);
series.push({ type: 'custom', xAxisIndex: gridD, yAxisIndex: gridD, silent: true, animation: false, z: 1,
  data: clusters.map((c, i) => [step * i, stripBottom[i], stripTop[i]]),
  renderItem(params, api) {
    const a = api.coord([api.value(0) - 26.35, api.value(2)]), b = api.coord([api.value(0) + 26.35, api.value(1)]);
    return { type: 'rect', shape: { x: a[0], y: a[1], width: b[0] - a[0], height: b[1] - a[1] }, style: { fill: '#ECECEC' } };
  } });
const denseSets = [bulkDense, cd4Dense, nCd4Dense, ctlDense, temDense, nCd8Dense, th2Dense, tregDense];
const upSets = [bulkUp, cd4Up, nCd4Up, ctlUp, temUp, nCd8Up, th2Up, tregUp];
const downSets = [bulkDown, cd4Down, nCd4Down, ctlDown, temDown, nCd8Down, th2Down, tregDown];
const collect = sets => sets.reduce((acc, s, i) => acc.concat(place(s, i)), []);
const collectIdx = rows => rows.reduce((acc, r) => acc.concat(place(r.slice(1), r[0])), []);
const redDot = '#AE2A24', blueDot = '#2F479B';
scatter('Up_Highly', gridD, collect(denseSets), redDot, 10.5, 3);
scatter('Up_Highly', gridD, collect(upSets), redDot, 5, 3);
scatter('Down_Highly', gridD, collect(downSets), blueDot, 5, 3);
scatter('Up_Lowly', gridD, collectIdx(upLowly), '#000', 4.6, 4);
scatter('Down_Lowly', gridD, collectIdx(downLowly), '#000', 4.6, 4);
series.push({ type: 'custom', xAxisIndex: gridD, yAxisIndex: gridD, silent: true, animation: false, z: 6,
  data: clusters.map((c, i) => [step * i, -0.4, 0.4]),
  renderItem(params, api) {
    const x = api.value(0);
    const a = api.coord([x - 33, api.value(2)]), b = api.coord([x + 33, api.value(1)]);
    return { type: 'group', children: [
      { type: 'rect', shape: { x: a[0], y: a[1], width: b[0] - a[0], height: b[1] - a[1] },
        style: { fill: typeColors[clusters[params.dataIndex]], stroke: '#111', lineWidth: 1.2 } },
      { type: 'text', x: (a[0] + b[0]) / 2, y: (a[1] + b[1]) / 2,
        style: { text: clusters[params.dataIndex], font: '10.5px ' + FONT, fill: '#1a1a1a', textAlign: 'center', textVerticalAlign: 'middle' } }
    ] };
  } });
series.push({ type: 'scatter', name: 'gene labels', xAxisIndex: gridD, yAxisIndex: gridD, silent: true, animation: false, z: 7, symbolSize: 1,
  itemStyle: { color: 'rgba(0,0,0,0)' },
  data: geneLabels.map(g => ({ name: g[0], value: [step * g[1] + g[2], g[3]] })),
  label: { show: true, position: 'inside', formatter: '{b}', fontSize: 7, color: '#333', fontFamily: FONT } });
text('average log2FC', 18, 897.5, 12.5, { align: 'center', rotation: Math.PI / 2 });

// ---- legends
const legendBase = { orient: 'vertical', selectedMode: false, icon: 'circle', itemWidth: 6, itemHeight: 6, padding: 0 };
const legends = [
  Object.assign({}, legendBase, { left: 52, top: 21, itemGap: 2, data: ['Control_1', 'Control_2', 'Control_3'], textStyle: { fontSize: 5.8, lineHeight: 6, color: '#333', fontFamily: FONT } }),
  Object.assign({}, legendBase, { left: 93.7, top: 21, itemGap: 2, data: ['pSS_1', 'pSS_2', 'pSS_3'], textStyle: { fontSize: 5.8, lineHeight: 6, color: '#333', fontFamily: FONT } }),
  Object.assign({}, legendBase, { left: 250.3, top: 17.3, itemGap: 2, data: ['CD4+Tem', 'CD8+CTL', 'CD8+Tem', 'naive CD4+T'], textStyle: { fontSize: 5.8, lineHeight: 6, color: '#333', fontFamily: FONT } }),
  Object.assign({}, legendBase, { left: 301, top: 17.3, itemGap: 2, data: ['naive CD8+T', 'Th2', 'Treg'], textStyle: { fontSize: 5.8, lineHeight: 6, color: '#333', fontFamily: FONT } }),
  Object.assign({}, legendBase, { left: 678, top: 67, icon: 'rect', itemWidth: 6.8, itemHeight: 7.7, itemGap: 0.5, data: ['CD4+Tem', 'CD8+CTL', 'CD8+Tem', 'naive CD4+T', 'naive CD8+T', 'Th2', 'Treg'],
    textStyle: { fontSize: 7.3, lineHeight: 7.7, color: '#222', fontFamily: FONT } }),
  Object.assign({}, legendBase, { left: 625.8, top: 834.7, itemWidth: 22, itemHeight: 5, itemGap: 9.8, data: ['Up_Highly', 'Down_Highly', 'Up_Lowly', 'Down_Lowly'],
    textStyle: { fontSize: 9.2, lineHeight: 10, color: '#222', fontFamily: FONT } })
];

const chart = echarts.init(document.getElementById('main'), null, { renderer: 'canvas' });
chart.setOption({
  animation: false,
  backgroundColor: '#fff',
  textStyle: { fontFamily: FONT },
  tooltip: { show: false },
  legend: legends,
  grid: grids,
  xAxis: xAxes,
  yAxis: yAxes,
  series,
  graphic: { elements: graphics }
});
</script>
</body>
</html>
